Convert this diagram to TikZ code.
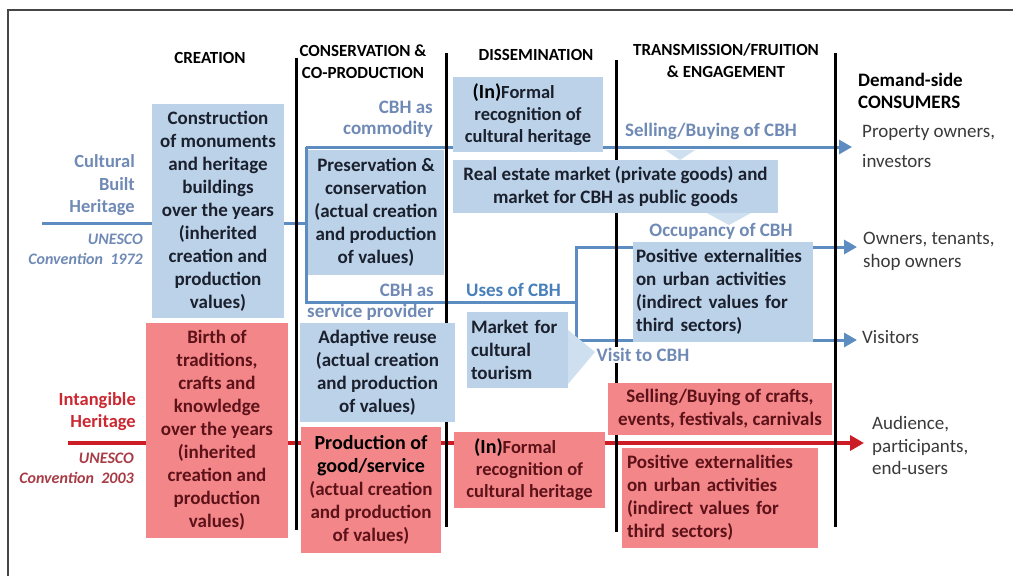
\documentclass[tikz,border=0pt]{standalone}
\usepackage{fontspec}
\setmainfont{Carlito}
\usetikzlibrary{arrows.meta,backgrounds}

\definecolor{boxblue}{RGB}{188,210,232}
\definecolor{boxred}{RGB}{243,134,137}
\definecolor{tipblue}{RGB}{206,223,240}
\definecolor{lineblue}{RGB}{92,140,192}
\definecolor{linered}{RGB}{204,28,38}
\definecolor{txtdark}{RGB}{26,32,46}
\definecolor{txtred}{RGB}{92,18,24}
\definecolor{labblue}{RGB}{112,138,182}
\definecolor{usesblue}{RGB}{72,128,186}
\definecolor{labred}{RGB}{204,40,50}
\definecolor{unered}{RGB}{168,60,70}
\definecolor{consgrey}{RGB}{58,58,58}
\definecolor{framegrey}{RGB}{70,70,70}

\newcommand\nohyph{\hyphenpenalty 10000\relax}
\tikzset{
  box/.style={rectangle, inner sep=0pt, align=center,
    font=\fontsize{19}{23}\selectfont\bfseries\nohyph},
  bluebox/.style={box, fill=boxblue, text=txtdark},
  redbox/.style={box, fill=boxred, text=txtred},
  header/.style={inner sep=0pt, align=center, text=black,
    font=\fontsize{17}{22}\selectfont\bfseries},
  heritage/.style={inner sep=0pt, align=right, anchor=east,
    font=\fontsize{18.5}{22.5}\selectfont\bfseries},
  convention/.style={inner sep=0pt, align=right, anchor=east,
    font=\fontsize{16}{20}\selectfont\bfseries\itshape},
  flowlabel/.style={inner sep=0pt, text=labblue,
    font=\fontsize{19}{21}\selectfont\bfseries},
  consumer/.style={inner sep=0pt, align=left, anchor=west, text=consgrey,
    font=\fontsize{19}{22.5}\selectfont},
  colline/.style={line width=3pt, black},
  flow/.style={line width=3pt, lineblue},
  flowarrow/.style={flow, -{Triangle[length=13pt,width=14pt]}},
  redflow/.style={line width=4.5pt, linered, -{Triangle[length=14pt,width=15pt]}}
}
\newcommand\inpre[1]{\llap{\textcolor{black}{\fontsize{20}{23}\selectfont (In)}}#1}

\begin{document}
\begin{tikzpicture}[x=1pt,y=-1pt]
\useasboundingbox (0,0) rectangle (1013,576);

% column headings
\node[header] (hcre) at (210,58) {CREATION};
\node[header] (hcons) at (363,61.5) {CONSERVATION \&\\CO-PRODUCTION};
\node[header] (hdis) at (536,55) {DISSEMINATION};
\node[header] (htra) at (726,60.5) {TRANSMISSION/FRUITION\\\& ENGAGEMENT};
\node[inner sep=0pt, align=left, anchor=west, text=black,
  font=\fontsize{19}{22}\selectfont\bfseries] (hdem) at (858,91) {Demand-side\\CONSUMERS};

% heritage labels on the left
\node[heritage, text=labblue] (cbh) at (135,185.5) {Cultural\\Built\\Heritage};
\node[convention, text=labblue] (conv72) at (143,249) {UNESCO\\Convention\ \ 1972};
\node[heritage, text=labred] (ich) at (136,411.5) {Intangible\\Heritage};
\node[convention, text=unered] (conv03) at (134,468.5) {UNESCO\\Convention\ \ 2003};

% boxes of the built heritage chain
\node[bluebox, minimum width=132pt, minimum height=214pt] (cons) at (218,211)
  {Construction\\of monuments\\and heritage\\buildings\\over the years\\(inherited\\creation and\\production\\values)};
\node[bluebox, minimum width=136pt, minimum height=125pt] (pres) at (376,212.5)
  {Preservation \&\\conservation\\(actual creation\\and production\\of values)};
\node[bluebox, minimum width=150pt, minimum height=75pt,
  font=\fontsize{18.5}{22}\selectfont\bfseries] (formal) at (528,114.5)
  {\inpre{Formal}\\recognition of\\cultural heritage};
\node[bluebox, minimum width=325pt, minimum height=53pt] (estate) at (615.5,186.5)
  {Real estate market (private goods) and\\market for CBH as public goods};
\node[bluebox, align=left, text width=174pt, inner xsep=3pt, minimum height=100pt] (posext) at (723,292)
  {Positive externalities\\on urban activities\\(indirect values for\\third sectors)};
\node[bluebox, align=left, text width=93pt, inner xsep=4pt, minimum height=76pt] (market) at (517.5,350)
  {Market for\\cultural\\tourism};
\node[bluebox, minimum width=155pt, minimum height=99pt] (adapt) at (377.5,372.5)
  {Adaptive reuse\\(actual creation\\and production\\of values)};

% small pointers of the market boxes
\fill[tipblue] (665,150) -- (695,150) -- (680,160) -- cycle;
\fill[tipblue] (707,213) -- (751,213) -- (729,225) -- cycle;
\fill[tipblue] (568,330) -- (595,352) -- (568,384) -- cycle;

% boxes of the intangible heritage chain
\node[redbox, minimum width=142pt, minimum height=215pt] (birth) at (217,430.5)
  {Birth of\\traditions,\\crafts and\\knowledge\\over the years\\(inherited\\creation and\\production\\values)};
\node[redbox, minimum width=140pt, minimum height=126pt] (prod) at (371,490)
  {\textcolor{black}{\fontsize{20}{24}\selectfont Production of}\\\textcolor{black}{\fontsize{20}{24}\selectfont good/service}\\(actual creation\\and production\\of values)};
\node[redbox, minimum width=151pt, minimum height=76pt,
  font=\fontsize{18.5}{22}\selectfont\bfseries] (formalR) at (529.5,470)
  {\inpre{Formal}\\recognition of\\cultural heritage};
\node[redbox, minimum width=224pt, minimum height=52pt] (sellR) at (720,408.5)
  {Selling/Buying of crafts,\\events, festivals, carnivals};
\node[redbox, align=left, text width=186pt, inner xsep=5pt, minimum height=100pt] (posextR) at (720,498)
  {Positive externalities\\on urban activities\\(indirect values for\\third sectors)};

% flow labels
\node[flowlabel, align=right, anchor=east] (commod) at (433,119) {CBH as\\commodity};
\node[flowlabel, align=right, anchor=east] (service) at (434,302.5) {CBH as\\service provider};
\node[flowlabel, anchor=west, text=usesblue] (uses) at (466,290) {Uses of CBH};
\node[flowlabel] (sellcbh) at (711,131) {Selling/Buying of CBH};
\node[flowlabel] (occup) at (721,231) {Occupancy of CBH};
\node[flowlabel, fill=white, inner sep=1pt] (visit) at (643,355) {Visit to CBH};

% demand side
\node[consumer, font=\fontsize{19}{30}\selectfont] (prop) at (862,146) {Property owners,\\investors};
\node[consumer] (owners) at (863,251.5) {Owners, tenants,\\shop owners};
\node[consumer] (visitors) at (862,337) {Visitors};
\node[consumer] (aud) at (872,445.5) {Audience,\\participants,\\end-users};

% connectors
\coordinate (cbhStart) at (42,223);
\coordinate (frL) at (306,223);
\coordinate (frTL) at (306,147);
\coordinate (frBL) at (306,302);
\coordinate (brT) at (576,247);
\coordinate (brM) at (576,302);
\coordinate (brB) at (576,340);
\coordinate (sellEnd) at (852,147);
\coordinate (ownEnd) at (857,247);
\coordinate (visEnd) at (857,340);
\coordinate (ichStart) at (68,443);
\coordinate (ichEnd) at (864,443);

\begin{scope}[on background layer]
  \fill[white] (0,0) rectangle (1013,576);
  \draw[framegrey, line width=1.4pt] (8,576) -- (8,10) -- (1013,10);
  \draw[flow] (cbhStart) -- (frL);
  \draw[flow] (frTL) -- (frBL) -- (brM);
  \draw[flowarrow] (frTL) -- (sellEnd);
  \draw[flow] (posext.west |- brT) -- (brT) -- (brB) -- (posext.west |- brB);
  \draw[flowarrow] (posext.east |- brT) -- (ownEnd);
  \draw[flowarrow] (posext.east |- brB) -- (visEnd);
  \draw[redflow] (ichStart) -- (ichEnd);
  % column dividers
  \draw[colline] (296,58) -- (296,530);
  \draw[colline] (446,53) -- (446,527);
  \draw[colline] (616,60) -- (616,532);
  \draw[colline] (835,53) -- (835,527);
\end{scope}
\end{tikzpicture}
\end{document}
